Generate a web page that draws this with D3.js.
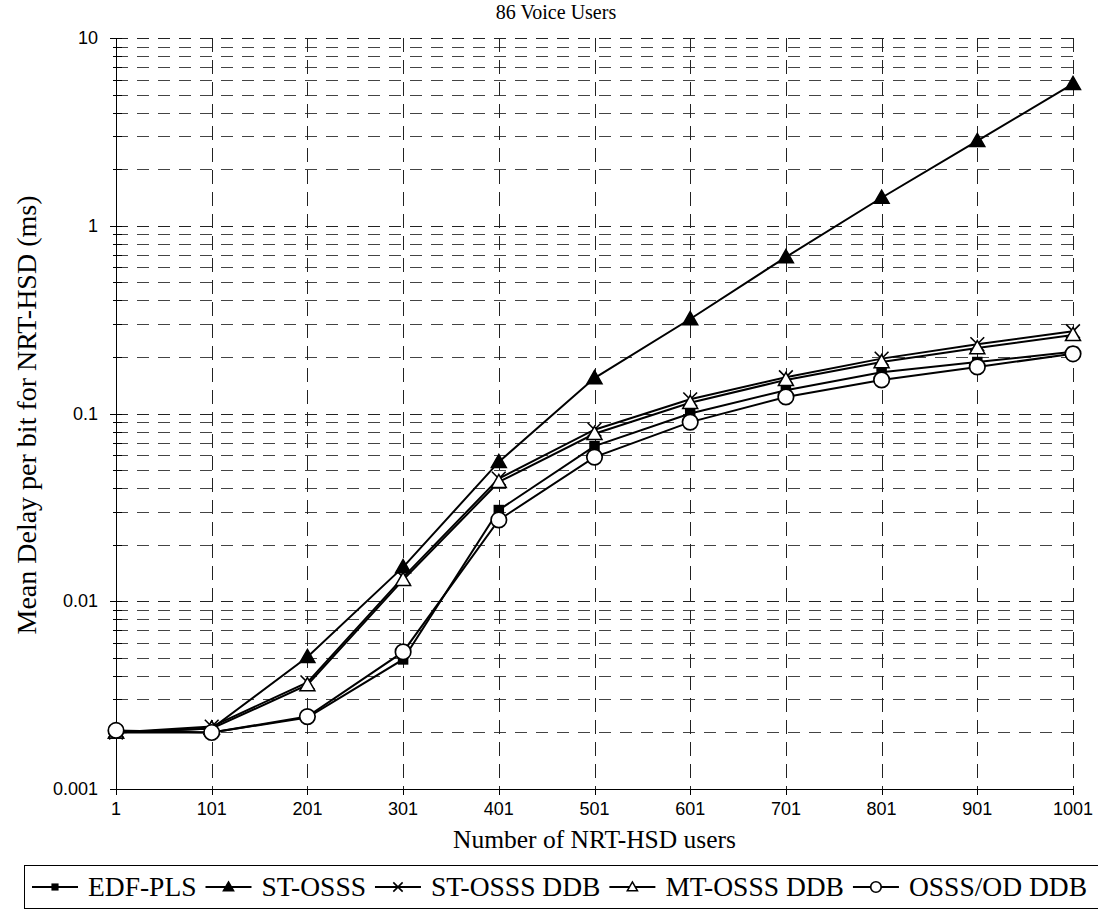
<!DOCTYPE html>
<html><head><meta charset="utf-8">
<script src="https://cdn.jsdelivr.net/npm/d3@7"></script>
<style>body{margin:0;background:#fff} svg{display:block}</style>
</head><body>
<svg id="c" width="1098" height="911"></svg>
<script>
// ---- data ----
const categories = ["1","101","201","301","401","501","601","701","801","901","1001"];
const edfPls     = [0.002, 0.002,  0.0024,  0.0049, 0.0306, 0.067,  0.100, 0.133, 0.166, 0.188, 0.213];
const stOsss     = [0.002, 0.0021, 0.00505, 0.0152, 0.0552, 0.1545, 0.3186, 0.681, 1.41, 2.83, 5.69];
const stOsssDdb  = [0.002, 0.00215,0.0037,  0.0134, 0.045,  0.082,  0.119, 0.156, 0.196, 0.234, 0.274];
const mtOsssDdb  = [0.002, 0.0021, 0.00358, 0.0130, 0.0432, 0.078,  0.114, 0.151, 0.188, 0.223, 0.262];
const osssOdDdb  = [0.00205,0.002, 0.00243, 0.00537,0.0271, 0.0586, 0.090, 0.1225,0.151, 0.177, 0.208];
const seriesNames = ["EDF-PLS","ST-OSSS","ST-OSSS DDB","MT-OSSS DDB","OSSS/OD DDB"];
const seriesMarkers = ["square","triFilled","cross","triOpen","circle"];
const yTickValues = [0.001, 0.01, 0.1, 1, 10];
const yTickLabels = ["0.001","0.01","0.1","1","10"];
const chartTitle = "86 Voice Users";
const xTitle = "Number of NRT-HSD users";
const yTitle = "Mean Delay per bit for NRT-HSD (ms)";

const seriesValues = [edfPls, stOsss, stOsssDdb, mtOsssDdb, osssOdDdb];

// ---- layout ----
const L = 116, R = 1073, T = 38, B = 789;
const serif = "'Liberation Serif','Times New Roman',serif";
const sans = "'Liberation Sans',Arial,sans-serif";

const svg = d3.select("#c");
const x = d3.scalePoint().domain(categories).range([L, R]);
const y = d3.scaleLog().domain([0.001, 10]).range([B, T]);

// grid: minor + major horizontal
const minorVals = [];
[0.001, 0.01, 0.1, 1].forEach(d => { for (let k = 2; k <= 9; k++) minorVals.push(d * k); });
const grid = svg.append("g").attr("stroke", "#222").attr("stroke-width", 1).attr("fill", "none");
grid.selectAll("line.hmin").data(minorVals).join("line")
  .attr("x1", L).attr("x2", R)
  .attr("y1", d => Math.round(y(d)) + 0.5).attr("y2", d => Math.round(y(d)) + 0.5)
  .attr("stroke", "#444").attr("stroke-dasharray", "12,9");
grid.selectAll("line.hmaj").data(yTickValues.slice(1)).join("line")
  .attr("x1", L).attr("x2", R)
  .attr("y1", d => Math.round(y(d)) + 0.5).attr("y2", d => Math.round(y(d)) + 0.5)
  .attr("stroke-dasharray", "12,9");
grid.selectAll("line.v").data(categories.slice(1)).join("line")
  .attr("x1", d => Math.round(x(d)) + 0.5).attr("x2", d => Math.round(x(d)) + 0.5)
  .attr("y1", T).attr("y2", B)
  .attr("stroke-dasharray", "14,8");

// y axis
const yAxis = svg.append("g").attr("transform", `translate(${L},0)`);
yAxis.append("line").attr("x1", 0.5).attr("x2", 0.5).attr("y1", T).attr("y2", B).attr("stroke", "#000");
yAxis.selectAll("line.mt").data(minorVals).join("line")
  .attr("x1", -3).attr("x2", 6)
  .attr("y1", d => Math.round(y(d)) + 0.5).attr("y2", d => Math.round(y(d)) + 0.5)
  .attr("stroke", "#000");
yAxis.selectAll("line.Mt").data(yTickValues).join("line")
  .attr("x1", -6).attr("x2", 6)
  .attr("y1", d => Math.round(y(d)) + 0.5).attr("y2", d => Math.round(y(d)) + 0.5)
  .attr("stroke", "#000");
yAxis.selectAll("text").data(yTickValues).join("text")
  .attr("x", -18).attr("y", d => y(d) + 6)
  .attr("text-anchor", "end").attr("font-family", sans).attr("font-size", 18)
  .text((d, i) => yTickLabels[i]);

// x axis
const xAxis = svg.append("g").attr("transform", `translate(0,${B})`);
xAxis.append("line").attr("x1", L).attr("x2", R).attr("y1", 0.5).attr("y2", 0.5).attr("stroke", "#000");
xAxis.selectAll("line.t").data(categories).join("line")
  .attr("x1", d => Math.round(x(d)) + 0.5).attr("x2", d => Math.round(x(d)) + 0.5)
  .attr("y1", 0).attr("y2", 6).attr("stroke", "#000");
xAxis.selectAll("text").data(categories).join("text")
  .attr("x", d => x(d)).attr("y", 26)
  .attr("text-anchor", "middle").attr("font-family", sans).attr("font-size", 18)
  .text(d => d);

// titles
svg.append("text").attr("x", 556).attr("y", 19).attr("text-anchor", "middle")
  .attr("font-family", serif).attr("font-size", 20).text(chartTitle);
svg.append("text").attr("x", (L + R) / 2).attr("y", 848).attr("text-anchor", "middle")
  .attr("font-family", serif).attr("font-size", 25.5).text(xTitle);
svg.append("text").attr("transform", `translate(36,415) rotate(-90)`).attr("text-anchor", "middle")
  .attr("font-family", serif).attr("font-size", 28).text(yTitle);

// markers
function drawMarker(g, type, cx, cy, s) {
  if (type === "square") {
    g.append("rect").attr("x", cx - s * 0.42).attr("y", cy - s * 0.42).attr("width", s * 0.84).attr("height", s * 0.84).attr("fill", "#000");
  } else if (type === "triFilled" || type === "triOpen") {
    const h = s * 1.0, w = s * 1.2;
    g.append("path").attr("d", `M${cx},${cy - h * 0.6}L${cx + w / 2},${cy + h * 0.45}L${cx - w / 2},${cy + h * 0.45}Z`)
      .attr("fill", type === "triFilled" ? "#000" : "#fff").attr("stroke", "#000").attr("stroke-width", 1.5);
  } else if (type === "cross") {
    const a = s * 0.55;
    g.append("path").attr("d", `M${cx - a},${cy - a}L${cx + a},${cy + a}M${cx - a},${cy + a}L${cx + a},${cy - a}`)
      .attr("stroke", "#000").attr("stroke-width", 1.6).attr("fill", "none");
  } else if (type === "circle") {
    g.append("circle").attr("cx", cx).attr("cy", cy).attr("r", s * 0.62).attr("fill", "#fff").attr("stroke", "#000").attr("stroke-width", 1.7);
  }
}

// series
const line = d3.line().x((d, i) => x(categories[i])).y(d => y(d));
seriesValues.forEach((vals, si) => {
  const g = svg.append("g");
  g.append("path").attr("d", line(vals)).attr("fill", "none").attr("stroke", "#000").attr("stroke-width", 2);
  vals.forEach((v, i) => drawMarker(g, seriesMarkers[si], x(categories[i]), y(v), 12.5));
});

// legend
const lg = svg.append("g");
lg.append("rect").attr("x", 24.5).attr("y", 865.5).attr("width", 1090).attr("height", 43)
  .attr("fill", "#fff").attr("stroke", "#000").attr("stroke-width", 1);
let cx = 32;
seriesNames.forEach((name, si) => {
  const g = lg.append("g");
  g.append("line").attr("x1", cx).attr("x2", cx + 46).attr("y1", 887).attr("y2", 887).attr("stroke", "#000").attr("stroke-width", 2);
  drawMarker(g, seriesMarkers[si], cx + 23, 887, 8.5);
  const t = g.append("text").attr("x", cx + 56).attr("y", 896).attr("font-family", serif).attr("font-size", 27.5).text(name);
  cx += 56 + t.node().getComputedTextLength() + 9;
});
</script>
</body></html>
